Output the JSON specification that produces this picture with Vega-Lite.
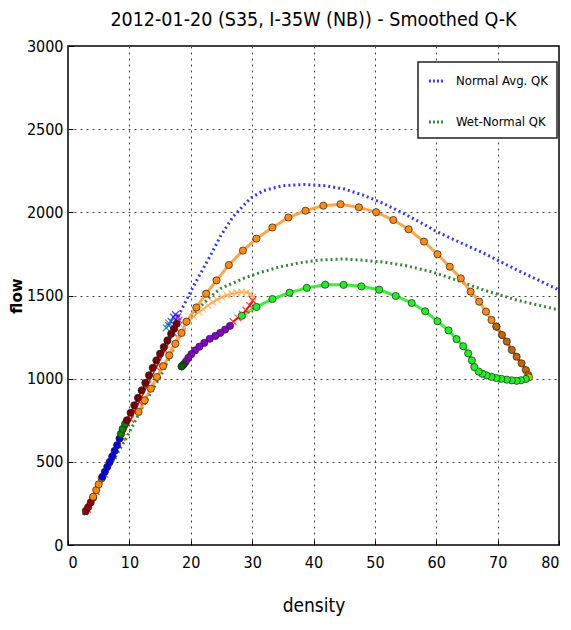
{
  "$schema": "https://vega.github.io/schema/vega-lite/v6.json",
  "width": 491,
  "height": 499,
  "autosize": {"type": "none"},
  "padding": {"left": 68, "top": 46, "right": 12, "bottom": 85},
  "title": {"text": "2012-01-20 (S35, I-35W (NB)) - Smoothed Q-K", "fontSize": 19.5, "font": "DejaVu Sans Condensed", "fontWeight": "normal", "color": "black", "offset": 8},
  "datasets": {
    "ref": [
      {"curve": "Normal Avg. QK", "d": 2.5, "f": 180}, {"curve": "Normal Avg. QK", "d": 5, "f": 370}, {"curve": "Normal Avg. QK", "d": 8, "f": 600}, {"curve": "Normal Avg. QK", "d": 11, "f": 830}, {"curve": "Normal Avg. QK", "d": 14, "f": 1060}, {"curve": "Normal Avg. QK", "d": 16.5, "f": 1260}, {"curve": "Normal Avg. QK", "d": 18.2, "f": 1393}, {"curve": "Normal Avg. QK", "d": 20.4, "f": 1553}, {"curve": "Normal Avg. QK", "d": 23.1, "f": 1733}, {"curve": "Normal Avg. QK", "d": 24.8, "f": 1854}, {"curve": "Normal Avg. QK", "d": 26.9, "f": 1974}, {"curve": "Normal Avg. QK", "d": 29.7, "f": 2084}, {"curve": "Normal Avg. QK", "d": 31.8, "f": 2130}, {"curve": "Normal Avg. QK", "d": 35, "f": 2160}, {"curve": "Normal Avg. QK", "d": 38.5, "f": 2168}, {"curve": "Normal Avg. QK", "d": 42, "f": 2160}, {"curve": "Normal Avg. QK", "d": 45, "f": 2140}, {"curve": "Normal Avg. QK", "d": 48, "f": 2105}, {"curve": "Normal Avg. QK", "d": 51, "f": 2060}, {"curve": "Normal Avg. QK", "d": 54.6, "f": 1995}, {"curve": "Normal Avg. QK", "d": 57.4, "f": 1940}, {"curve": "Normal Avg. QK", "d": 60, "f": 1885}, {"curve": "Normal Avg. QK", "d": 63.5, "f": 1825}, {"curve": "Normal Avg. QK", "d": 67.7, "f": 1755}, {"curve": "Normal Avg. QK", "d": 73.1, "f": 1654}, {"curve": "Normal Avg. QK", "d": 76.5, "f": 1595}, {"curve": "Normal Avg. QK", "d": 80, "f": 1533},
      {"curve": "Wet-Normal QK", "d": 3, "f": 180}, {"curve": "Wet-Normal QK", "d": 4.1, "f": 290}, {"curve": "Wet-Normal QK", "d": 6, "f": 420}, {"curve": "Wet-Normal QK", "d": 9.6, "f": 650}, {"curve": "Wet-Normal QK", "d": 12, "f": 820}, {"curve": "Wet-Normal QK", "d": 15, "f": 1010}, {"curve": "Wet-Normal QK", "d": 17.1, "f": 1170}, {"curve": "Wet-Normal QK", "d": 18.2, "f": 1260}, {"curve": "Wet-Normal QK", "d": 20, "f": 1370}, {"curve": "Wet-Normal QK", "d": 21.5, "f": 1430}, {"curve": "Wet-Normal QK", "d": 23.1, "f": 1490}, {"curve": "Wet-Normal QK", "d": 25, "f": 1545}, {"curve": "Wet-Normal QK", "d": 28.6, "f": 1603}, {"curve": "Wet-Normal QK", "d": 31.3, "f": 1638}, {"curve": "Wet-Normal QK", "d": 34.5, "f": 1672}, {"curve": "Wet-Normal QK", "d": 37.8, "f": 1697}, {"curve": "Wet-Normal QK", "d": 41, "f": 1713}, {"curve": "Wet-Normal QK", "d": 44.8, "f": 1720}, {"curve": "Wet-Normal QK", "d": 48, "f": 1712}, {"curve": "Wet-Normal QK", "d": 51.6, "f": 1700}, {"curve": "Wet-Normal QK", "d": 55, "f": 1680}, {"curve": "Wet-Normal QK", "d": 59.5, "f": 1640}, {"curve": "Wet-Normal QK", "d": 63.5, "f": 1590}, {"curve": "Wet-Normal QK", "d": 67.7, "f": 1533}, {"curve": "Wet-Normal QK", "d": 73.1, "f": 1473}, {"curve": "Wet-Normal QK", "d": 76.5, "f": 1443}, {"curve": "Wet-Normal QK", "d": 80, "f": 1413}
    ],
    "traces": [
      {"s": "maroon1", "o": 1, "d": 2.9, "f": 205}, {"s": "maroon1", "o": 2, "d": 3.3, "f": 228}, {"s": "maroon1", "o": 3, "d": 3.7, "f": 256}, {"s": "maroon1", "o": 4, "d": 4.1, "f": 285},
      {"s": "orange1", "o": 1, "d": 4.1, "f": 290}, {"s": "orange1", "o": 2, "d": 4.6, "f": 330}, {"s": "orange1", "o": 3, "d": 5.0, "f": 365}, {"s": "orange1", "o": 4, "d": 5.5, "f": 401},
      {"s": "blue", "o": 1, "d": 5.6, "f": 410}, {"s": "blue", "o": 2, "d": 6.0, "f": 440}, {"s": "blue", "o": 3, "d": 6.4, "f": 470}, {"s": "blue", "o": 4, "d": 6.8, "f": 500}, {"s": "blue", "o": 5, "d": 7.2, "f": 532}, {"s": "blue", "o": 6, "d": 7.6, "f": 566}, {"s": "blue", "o": 7, "d": 8.0, "f": 600}, {"s": "blue", "o": 8, "d": 8.4, "f": 640},
      {"s": "green1", "o": 1, "d": 8.6, "f": 668}, {"s": "green1", "o": 2, "d": 8.9, "f": 698}, {"s": "green1", "o": 3, "d": 9.3, "f": 728},
      {"s": "maroon2", "o": 1, "d": 9.6, "f": 750}, {"s": "maroon2", "o": 2, "d": 10.2, "f": 795}, {"s": "maroon2", "o": 3, "d": 10.8, "f": 840}, {"s": "maroon2", "o": 4, "d": 11.4, "f": 885}, {"s": "maroon2", "o": 5, "d": 12.0, "f": 930}, {"s": "maroon2", "o": 6, "d": 12.6, "f": 975}, {"s": "maroon2", "o": 7, "d": 13.2, "f": 1020}, {"s": "maroon2", "o": 8, "d": 13.8, "f": 1065}, {"s": "maroon2", "o": 9, "d": 14.4, "f": 1110}, {"s": "maroon2", "o": 10, "d": 15.0, "f": 1150}, {"s": "maroon2", "o": 11, "d": 15.6, "f": 1190}, {"s": "maroon2", "o": 12, "d": 16.2, "f": 1230}, {"s": "maroon2", "o": 13, "d": 16.8, "f": 1270}, {"s": "maroon2", "o": 14, "d": 17.3, "f": 1300}, {"s": "maroon2", "o": 15, "d": 17.7, "f": 1330},
      {"s": "orange", "o": 1, "d": 11.5, "f": 800}, {"s": "orange", "o": 2, "d": 12.5, "f": 870}, {"s": "orange", "o": 3, "d": 13.5, "f": 940}, {"s": "orange", "o": 4, "d": 14.5, "f": 1010}, {"s": "orange", "o": 5, "d": 15.5, "f": 1075}, {"s": "orange", "o": 6, "d": 16.5, "f": 1140}, {"s": "orange", "o": 7, "d": 17.5, "f": 1210}, {"s": "orange", "o": 8, "d": 18.5, "f": 1275}, {"s": "orange", "o": 9, "d": 19.3, "f": 1343}, {"s": "orange", "o": 10, "d": 20.9, "f": 1428}, {"s": "orange", "o": 11, "d": 22.5, "f": 1511}, {"s": "orange", "o": 12, "d": 24.2, "f": 1591}, {"s": "orange", "o": 13, "d": 26.2, "f": 1683}, {"s": "orange", "o": 14, "d": 28.5, "f": 1770}, {"s": "orange", "o": 15, "d": 30.7, "f": 1842}, {"s": "orange", "o": 16, "d": 33.3, "f": 1909}, {"s": "orange", "o": 17, "d": 35.9, "f": 1969}, {"s": "orange", "o": 18, "d": 38.7, "f": 2010}, {"s": "orange", "o": 19, "d": 41.6, "f": 2040}, {"s": "orange", "o": 20, "d": 44.4, "f": 2049}, {"s": "orange", "o": 21, "d": 47.4, "f": 2030}, {"s": "orange", "o": 22, "d": 50.2, "f": 2001}, {"s": "orange", "o": 23, "d": 53.0, "f": 1954}, {"s": "orange", "o": 24, "d": 55.5, "f": 1898}, {"s": "orange", "o": 25, "d": 58.0, "f": 1824}, {"s": "orange", "o": 26, "d": 60.2, "f": 1748}, {"s": "orange", "o": 27, "d": 62.2, "f": 1673}, {"s": "orange", "o": 28, "d": 64.0, "f": 1603}, {"s": "orange", "o": 29, "d": 65.6, "f": 1523}, {"s": "orange", "o": 30, "d": 67.0, "f": 1463}, {"s": "orange", "o": 31, "d": 68.1, "f": 1403}, {"s": "orange", "o": 32, "d": 69.0, "f": 1353}, {"s": "orange", "o": 33, "d": 69.8, "f": 1313},
      {"s": "brown", "o": 1, "d": 69.8, "f": 1313}, {"s": "brown", "o": 2, "d": 70.7, "f": 1263}, {"s": "brown", "o": 3, "d": 71.5, "f": 1223}, {"s": "brown", "o": 4, "d": 72.3, "f": 1173}, {"s": "brown", "o": 5, "d": 73.1, "f": 1132}, {"s": "brown", "o": 6, "d": 73.9, "f": 1092}, {"s": "brown", "o": 7, "d": 74.6, "f": 1052}, {"s": "brown", "o": 8, "d": 75.0, "f": 1022},
      {"s": "yellow", "o": 1, "d": 75.1, "f": 1008},
      {"s": "lime", "o": 1, "d": 74.6, "f": 998}, {"s": "lime", "o": 2, "d": 73.8, "f": 990}, {"s": "lime", "o": 3, "d": 73.1, "f": 987}, {"s": "lime", "o": 4, "d": 72.3, "f": 990}, {"s": "lime", "o": 5, "d": 71.5, "f": 994}, {"s": "lime", "o": 6, "d": 70.6, "f": 999}, {"s": "lime", "o": 7, "d": 69.8, "f": 1004}, {"s": "lime", "o": 8, "d": 69.0, "f": 1011}, {"s": "lime", "o": 9, "d": 68.2, "f": 1020}, {"s": "lime", "o": 10, "d": 67.5, "f": 1030}, {"s": "lime", "o": 11, "d": 66.9, "f": 1043}, {"s": "lime", "o": 12, "d": 66.2, "f": 1070}, {"s": "lime", "o": 13, "d": 65.8, "f": 1110}, {"s": "lime", "o": 14, "d": 65.2, "f": 1152}, {"s": "lime", "o": 15, "d": 64.4, "f": 1195}, {"s": "lime", "o": 16, "d": 63.3, "f": 1238}, {"s": "lime", "o": 17, "d": 62.0, "f": 1290}, {"s": "lime", "o": 18, "d": 60.2, "f": 1345}, {"s": "lime", "o": 19, "d": 58.2, "f": 1405}, {"s": "lime", "o": 20, "d": 56.0, "f": 1455}, {"s": "lime", "o": 21, "d": 53.4, "f": 1497}, {"s": "lime", "o": 22, "d": 50.7, "f": 1535}, {"s": "lime", "o": 23, "d": 47.8, "f": 1555}, {"s": "lime", "o": 24, "d": 44.9, "f": 1564}, {"s": "lime", "o": 25, "d": 41.9, "f": 1565}, {"s": "lime", "o": 26, "d": 38.9, "f": 1546}, {"s": "lime", "o": 27, "d": 36.1, "f": 1517}, {"s": "lime", "o": 28, "d": 33.3, "f": 1479}, {"s": "lime", "o": 29, "d": 30.7, "f": 1431}, {"s": "lime", "o": 30, "d": 28.3, "f": 1378},
      {"s": "orangex", "o": 1, "d": 16.8, "f": 1180}, {"s": "orangex", "o": 2, "d": 17.8, "f": 1245}, {"s": "orangex", "o": 3, "d": 18.8, "f": 1305}, {"s": "orangex", "o": 4, "d": 19.7, "f": 1345}, {"s": "orangex", "o": 5, "d": 20.5, "f": 1375}, {"s": "orangex", "o": 6, "d": 21.3, "f": 1400}, {"s": "orangex", "o": 7, "d": 22.0, "f": 1418}, {"s": "orangex", "o": 8, "d": 22.8, "f": 1440}, {"s": "orangex", "o": 9, "d": 23.6, "f": 1460}, {"s": "orangex", "o": 10, "d": 24.3, "f": 1475}, {"s": "orangex", "o": 11, "d": 25.1, "f": 1490}, {"s": "orangex", "o": 12, "d": 25.9, "f": 1502}, {"s": "orangex", "o": 13, "d": 26.7, "f": 1511}, {"s": "orangex", "o": 14, "d": 27.5, "f": 1517}, {"s": "orangex", "o": 15, "d": 28.3, "f": 1520}, {"s": "orangex", "o": 16, "d": 29.1, "f": 1518}, {"s": "orangex", "o": 17, "d": 29.7, "f": 1510}, {"s": "orangex", "o": 18, "d": 30.1, "f": 1490}, {"s": "orangex", "o": 19, "d": 30.1, "f": 1470},
      {"s": "red", "o": 1, "d": 30.1, "f": 1470}, {"s": "red", "o": 2, "d": 29.6, "f": 1440}, {"s": "red", "o": 3, "d": 29.0, "f": 1412}, {"s": "red", "o": 4, "d": 28.4, "f": 1388}, {"s": "red", "o": 5, "d": 27.7, "f": 1365}, {"s": "red", "o": 6, "d": 26.9, "f": 1343},
      {"s": "purple", "o": 1, "d": 26.4, "f": 1318}, {"s": "purple", "o": 2, "d": 25.6, "f": 1295}, {"s": "purple", "o": 3, "d": 24.8, "f": 1275}, {"s": "purple", "o": 4, "d": 24.0, "f": 1257}, {"s": "purple", "o": 5, "d": 23.1, "f": 1240}, {"s": "purple", "o": 6, "d": 22.2, "f": 1215}, {"s": "purple", "o": 7, "d": 21.4, "f": 1192}, {"s": "purple", "o": 8, "d": 20.7, "f": 1170}, {"s": "purple", "o": 9, "d": 20.1, "f": 1148}, {"s": "purple", "o": 10, "d": 19.6, "f": 1125}, {"s": "purple", "o": 11, "d": 19.2, "f": 1103}, {"s": "purple", "o": 12, "d": 18.9, "f": 1088},
      {"s": "darkgreen", "o": 1, "d": 18.7, "f": 1080}, {"s": "darkgreen", "o": 2, "d": 18.5, "f": 1073},
      {"s": "reddiag", "o": 1, "d": 3.2, "f": 215}, {"s": "reddiag", "o": 2, "d": 4.6, "f": 320}, {"s": "reddiag", "o": 3, "d": 6.0, "f": 425}, {"s": "reddiag", "o": 4, "d": 7.4, "f": 535}, {"s": "reddiag", "o": 5, "d": 8.8, "f": 645}, {"s": "reddiag", "o": 6, "d": 10.2, "f": 755}, {"s": "reddiag", "o": 7, "d": 11.6, "f": 860}, {"s": "reddiag", "o": 8, "d": 13.0, "f": 965}, {"s": "reddiag", "o": 9, "d": 14.4, "f": 1070}, {"s": "reddiag", "o": 10, "d": 15.8, "f": 1170}, {"s": "reddiag", "o": 11, "d": 17.2, "f": 1275},
      {"s": "bluex", "o": 1, "d": 16.4, "f": 1320}, {"s": "bluex", "o": 2, "d": 16.8, "f": 1345}, {"s": "bluex", "o": 3, "d": 17.2, "f": 1370}, {"s": "bluex", "o": 4, "d": 17.5, "f": 1385},
      {"s": "tealx", "o": 1, "d": 16.0, "f": 1305}, {"s": "tealx", "o": 2, "d": 16.4, "f": 1335},
      {"s": "purplex", "o": 1, "d": 17.9, "f": 1372}, {"s": "purplex", "o": 2, "d": 18.1, "f": 1352}
    ]
  },
  "layer": [
    {
      "data": {"name": "ref"},
      "mark": {"type": "line", "strokeDash": [2, 3], "strokeWidth": 3},
      "encoding": {
        "x": {"field": "d", "type": "quantitative", "scale": {"domain": [0, 80], "nice": false}, "axis": {"title": "density", "values": [0, 10, 20, 30, 40, 50, 60, 70, 80], "format": "d"}},
        "y": {"field": "f", "type": "quantitative", "scale": {"domain": [0, 3000], "nice": false}, "axis": {"title": "flow", "values": [0, 500, 1000, 1500, 2000, 2500, 3000], "format": "d"}},
        "color": {"field": "curve", "type": "nominal", "scale": {"domain": ["Normal Avg. QK", "Wet-Normal QK"], "range": ["#3a3aff", "#2e8b2e"]}, "legend": {"title": null}},
        "order": {"field": "d", "type": "quantitative"}
      }
    },
    {
      "data": {"name": "traces"},
      "transform": [{"filter": {"field": "s", "oneOf": ["orange", "lime", "brown"]}}],
      "mark": {"type": "line", "strokeWidth": 3, "opacity": 0.9},
      "encoding": {
        "x": {"field": "d", "type": "quantitative"},
        "y": {"field": "f", "type": "quantitative"},
        "stroke": {"field": "s", "type": "nominal", "scale": {"domain": ["orange", "lime", "brown"], "range": ["#ff9a33", "#22ee22", "#c86400"]}, "legend": null},
        "order": {"field": "o", "type": "quantitative"}
      }
    },
    {
      "data": {"name": "traces"},
      "transform": [{"filter": {"field": "s", "oneOf": ["maroon1", "maroon2", "orange1", "blue", "green1", "purple", "red", "reddiag", "orangex"]}}],
      "mark": {"type": "line", "strokeWidth": 1.5},
      "encoding": {
        "x": {"field": "d", "type": "quantitative"},
        "y": {"field": "f", "type": "quantitative"},
        "detail": {"field": "s", "type": "nominal"},
        "stroke": {"field": "s", "type": "nominal", "scale": {"domain": ["maroon1", "maroon2", "orange1", "blue", "green1", "purple", "red", "reddiag", "orangex"], "range": ["#800000", "#800000", "#ff8800", "#0000ff", "#008800", "#8000c0", "#ff0000", "#ff0000", "#ffaa55"]}, "legend": null},
        "order": {"field": "o", "type": "quantitative"}
      }
    },
    {
      "data": {"name": "traces"},
      "transform": [{"filter": {"field": "s", "oneOf": ["orangex", "red", "reddiag", "bluex", "tealx", "purplex"]}}],
      "mark": {"type": "point", "shape": "M-1,-1L1,1M-1,1L1,-1", "filled": false, "size": 45, "strokeWidth": 1.3},
      "encoding": {
        "x": {"field": "d", "type": "quantitative"},
        "y": {"field": "f", "type": "quantitative"},
        "stroke": {"field": "s", "type": "nominal", "scale": {"domain": ["orangex", "red", "reddiag", "bluex", "tealx", "purplex"], "range": ["#ffaa55", "#ff0000", "#ff0000", "#0000ff", "#008080", "#8000c0"]}, "legend": null}
      }
    },
    {
      "data": {"name": "traces"},
      "transform": [{"filter": {"field": "s", "oneOf": ["maroon1", "maroon2", "orange1", "blue", "green1", "orange", "brown", "yellow", "lime", "purple", "darkgreen"]}}],
      "mark": {"type": "point", "shape": "circle", "filled": true, "size": 52, "stroke": "#222", "strokeWidth": 0.7, "opacity": 1},
      "encoding": {
        "x": {"field": "d", "type": "quantitative"},
        "y": {"field": "f", "type": "quantitative"},
        "fill": {"field": "s", "type": "nominal", "scale": {"domain": ["maroon1", "maroon2", "orange1", "blue", "green1", "orange", "brown", "yellow", "lime", "purple", "darkgreen"], "range": ["#990000", "#7a0000", "#ff8800", "#0000ee", "#008800", "#ff8a10", "#c86400", "#cccc00", "#22ee22", "#8800cc", "#006000"]}, "legend": null}
      }
    }
  ],
  "resolve": {"scale": {"stroke": "independent"}},
  "config": {
    "font": "DejaVu Sans Condensed",
    "view": {"stroke": "black", "strokeWidth": 1.5},
    "axis": {
      "grid": true, "gridColor": "#444", "gridDash": [2, 4], "gridWidth": 1,
      "domain": false, "tickColor": "black", "tickSize": -5,
      "labelFont": "DejaVu Sans Condensed", "labelFontSize": 16, "labelColor": "black",
      "titleFont": "DejaVu Sans Condensed", "titleFontSize": 19, "titleFontWeight": "normal", "titleColor": "black"
    },
    "axisX": {"labelPadding": 14, "titlePadding": 26},
    "axisY": {"labelPadding": 10, "titleFont": "DejaVu Sans", "titleFontWeight": "bold", "titleFontSize": 15, "titlePadding": 2},
    "legend": {
      "orient": "none", "legendX": 350, "legendY": 16,
      "fillColor": "white", "strokeColor": "#222", "strokeWidth": 1.5, "padding": 9, "cornerRadius": 0,
      "symbolType": "stroke", "symbolDash": [2, 2], "symbolStrokeWidth": 3, "symbolSize": 260,
      "labelFont": "DejaVu Sans Condensed", "labelFontSize": 13, "labelColor": "black", "rowPadding": 24, "labelOffset": 9
    }
  }
}
